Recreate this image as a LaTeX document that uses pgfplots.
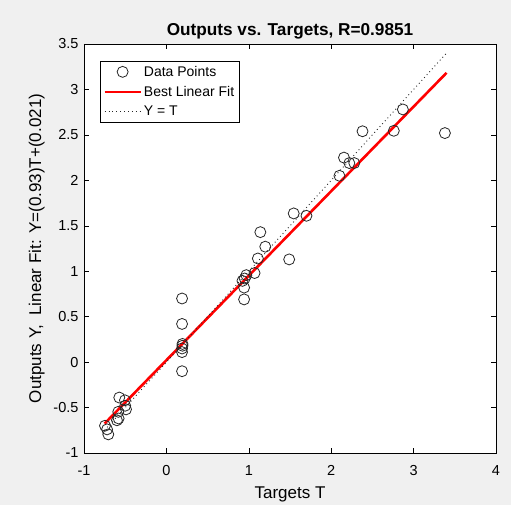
\documentclass[border=0pt]{standalone}
\usepackage{pgfplots}
\pgfplotsset{compat=1.18}
\usepackage{fontspec}
\setmainfont{Liberation Sans}
\usetikzlibrary{backgrounds}
\definecolor{bg}{RGB}{240,240,240}
\pgfplotsset{
 legmark/.style={legend image code/.code={\draw[##1] plot coordinates {(18pt,0pt)};}},
 legline/.style={legend image code/.code={\draw[##1] (0pt,0pt) -- (36pt,0pt);}},
}
\begin{document}
\begin{tikzpicture}
\begin{axis}[
 scale only axis, width=412pt, height=409pt,
 xmin=-1,xmax=4,ymin=-1,ymax=3.5,
 xtick={-1,0,1,2,3,4}, ytick={-1,-0.5,0,0.5,1,1.5,2,2.5,3,3.5},
 tick align=inside, major tick length=5pt,
 tick style={black, line width=0.5pt},
 axis line style={black, line width=0.6pt},
 /pgf/number format/assume math mode=true,
 ticklabel style={font=\fontsize{14.5}{16}\selectfont},
 xticklabel style={yshift=-9pt},
 yticklabel style={xshift=-2pt},
 label style={font=\fontsize{17}{19}\selectfont},
 xlabel={Targets T},
 xlabel style={yshift=-4pt},
 ylabel={Outputs Y,\ \ Linear Fit: Y=(0.93)T+(0.021)},
 ylabel style={yshift=2pt},
 title={Outputs vs. Targets, R=0.9851},
 title style={font=\fontsize{17.2}{19}\selectfont\bfseries, yshift=-5pt},
 axis background/.style={fill=white},
 legend style={at={(axis description cs:0.039,0.959)}, anchor=north west,
   draw=black, line width=0.5pt, fill=white, font=\fontsize{14}{16}\selectfont,
   inner xsep=3pt, inner ysep=3pt, row sep=4.5pt},
 legend cell align=left,
]
\addplot[only marks, mark=o, mark size=5.5pt, mark options={line width=0.8pt, draw=black!85}, legmark]
 coordinates {
(-0.745,-0.70) (-0.72,-0.74) (-0.705,-0.795) (-0.60,-0.64) (-0.58,-0.62)
(-0.572,-0.39) (-0.503,-0.42) (-0.584,-0.547) (-0.49,-0.52) (-0.50,-0.48)
(0.19,0.70) (0.19,0.42) (0.195,0.20) (0.195,0.18) (0.19,0.15) (0.19,0.11) (0.19,-0.10)
(0.943,0.69) (0.943,0.82) (0.923,0.894) (0.97,0.957) (0.95,0.92) (1.07,0.98)
(1.11,1.14) (1.20,1.27) (1.14,1.43) (1.49,1.13) (1.545,1.636) (1.70,1.61)
(2.10,2.05) (2.155,2.25) (2.22,2.19) (2.28,2.19) (2.38,2.54) (2.76,2.545)
(2.87,2.78) (3.38,2.52)
};
\addlegendentry{Data Points}
\addplot[red, line width=2.6pt, legline]
 coordinates {(-0.75,-0.6765) (3.4,3.183)};
\addlegendentry{Best Linear Fit}
\addplot[black!85, line width=0.9pt, dash pattern=on 0.9pt off 3pt, legline]
 coordinates {(-0.75,-0.75) (3.4,3.4)};
\addlegendentry{Y = T}
\end{axis}
\begin{pgfonlayer}{background}
\fill[bg] ([shift={(-84pt,-52pt)}]current axis.south west) rectangle ([shift={(15pt,44pt)}]current axis.north east);
\end{pgfonlayer}
\pgfresetboundingbox
\path[use as bounding box] ([shift={(-84pt,-52pt)}]current axis.south west) rectangle ([shift={(15pt,44pt)}]current axis.north east);
\end{tikzpicture}
\end{document}
